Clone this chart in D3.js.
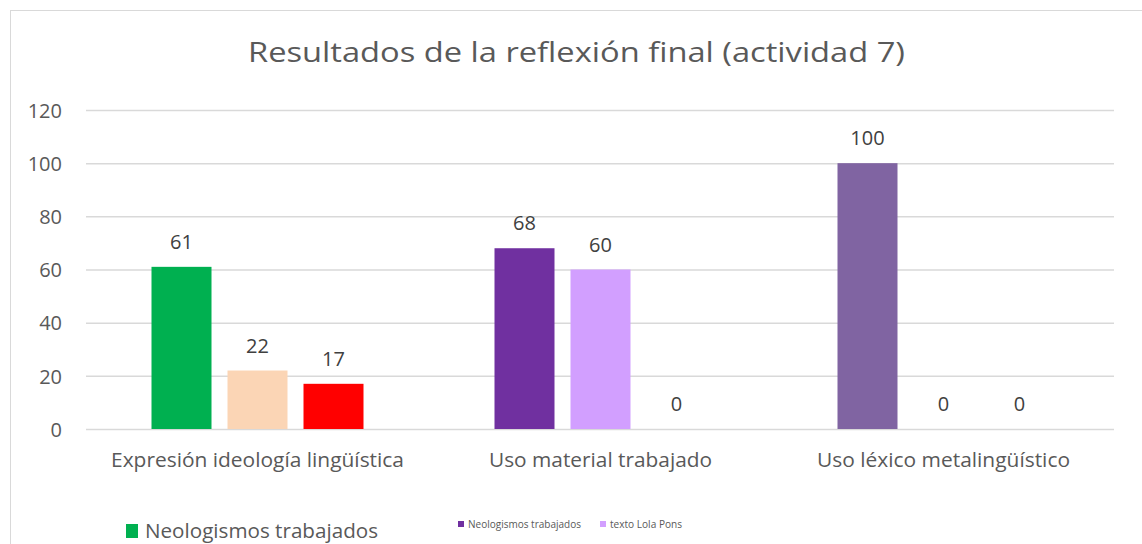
<!DOCTYPE html>
<html><head><meta charset="utf-8">
<script src="https://cdn.jsdelivr.net/npm/d3@7"></script>
<style>
html,body{margin:0;padding:0;background:#fff;}
svg{display:block;font-family:"Open Sans",sans-serif;}
</style></head>
<body>
<svg id="chart" width="1142" height="544"></svg>
<script>
const title = "Resultados de la reflexión final (actividad 7)";
const categories = ["Expresión ideología lingüística","Uso material trabajado","Uso léxico metalingüístico"];
const serie1 = [61, 68, 100];
const serie2 = [22, 60, 0];
const serie3 = [17, 0, 0];
const colors1 = ["#00B050", "#7030A0", "#8064A2"];
const colors2 = ["#FBD5B5", "#D29FFF", "#FFFFFF"];
const colors3 = ["#FF0000", "#FFFFFF", "#FFFFFF"];
const yTicks = [0, 20, 40, 60, 80, 100, 120];
const legendBig = [{label:"Neologismos trabajados", color:"#00B050"}];
const legendSmall = [{label:"Neologismos trabajados", color:"#7030A0"},{label:"texto Lola Pons", color:"#D29FFF"}];

const svg = d3.select("#chart");
// chart border
svg.append("rect").attr("x",10.5).attr("y",10.5).attr("width",1160).attr("height",560)
  .attr("fill","none").attr("stroke","#D9D9D9").attr("stroke-width",1);

const x0 = d3.scaleBand().domain(categories).range([86,1115]);
const y = d3.scaleLinear().domain([0,120]).range([429,110]);
const seriesKeys = ["s1","s2","s3"];
// inner band: three 60px bars with 16px gaps, centred in each category band
const x1 = d3.scalePoint().domain(seriesKeys).range([-76, 76]);

// gridlines
svg.append("g").selectAll("line").data(yTicks).join("line")
  .attr("x1",86).attr("x2",1114).attr("y1",d=>y(d)+0.5).attr("y2",d=>y(d)+0.5)
  .attr("stroke","#D9D9D9").attr("stroke-width",1.5);

// y axis labels
const yAxis = d3.axisLeft(y).tickValues(yTicks).tickSize(0).tickPadding(0);
const ga = svg.append("g").attr("transform","translate(62,0)").call(yAxis);
ga.select(".domain").remove();
ga.selectAll("text").attr("font-size",20).attr("fill","#595959").attr("font-family","Open Sans").attr("dy","0.36em");

// data table
const rows = categories.map((c,i)=>({cat:c, vals:[
  {k:"s1", v:serie1[i], c:colors1[i]},
  {k:"s2", v:serie2[i], c:colors2[i]},
  {k:"s3", v:serie3[i], c:colors3[i]}]}));

const bw = 60;
const groups = svg.append("g").selectAll("g").data(rows).join("g")
  .attr("transform",d=>`translate(${x0(d.cat)+x0.bandwidth()/2},0)`);
groups.selectAll("rect").data(d=>d.vals).join("rect")
  .attr("x",d=>x1(d.k)-bw/2).attr("width",bw)
  .attr("y",d=>y(d.v)).attr("height",d=>y(0)-y(d.v))
  .attr("fill",d=>d.c);
groups.selectAll("text").data(d=>d.vals).join("text")
  .attr("x",d=>x1(d.k)).attr("y",d=>y(d.v)-18)
  .attr("text-anchor","middle").attr("font-size",20).attr("fill","#404040")
  .text(d=>d.v);

// category labels
const xAxis = d3.axisBottom(x0).tickSize(0).tickPadding(0);
const gx = svg.append("g").attr("transform","translate(0,467)").call(xAxis);
gx.select(".domain").remove();
gx.selectAll("text").attr("font-size",19.5).attr("fill","#595959").attr("font-family","Open Sans")
  .attr("dy",0).attr("y",0);
const catWidths = [293, 223, 253];
gx.selectAll("text").each(function(d,i){
  d3.select(this).attr("textLength",catWidths[i]).attr("lengthAdjust","spacingAndGlyphs");
});

// title
svg.append("text").attr("x",576.5).attr("y",62).attr("text-anchor","middle")
  .attr("font-size",28).attr("fill","#595959")
  .attr("textLength",657).attr("lengthAdjust","spacingAndGlyphs").text(title);

// big legend
const lb = svg.append("g");
legendBig.forEach(l=>{
  lb.append("rect").attr("x",126).attr("y",524).attr("width",12).attr("height",14).attr("fill",l.color);
  lb.append("text").attr("x",145).attr("y",538).attr("font-size",20).attr("fill","#595959")
    .attr("textLength",233).attr("lengthAdjust","spacingAndGlyphs").text(l.label);
});
// small legend
const smallX = [458, 600];
const smallW = [113, 72];
legendSmall.forEach((l,i)=>{
  svg.append("rect").attr("x",smallX[i]).attr("y",521).attr("width",6).attr("height",6).attr("fill",l.color);
  svg.append("text").attr("x",smallX[i]+10).attr("y",528).attr("font-size",10.5).attr("fill","#595959")
    .attr("textLength",smallW[i]).attr("lengthAdjust","spacingAndGlyphs").text(l.label);
});
</script>
</body></html>
